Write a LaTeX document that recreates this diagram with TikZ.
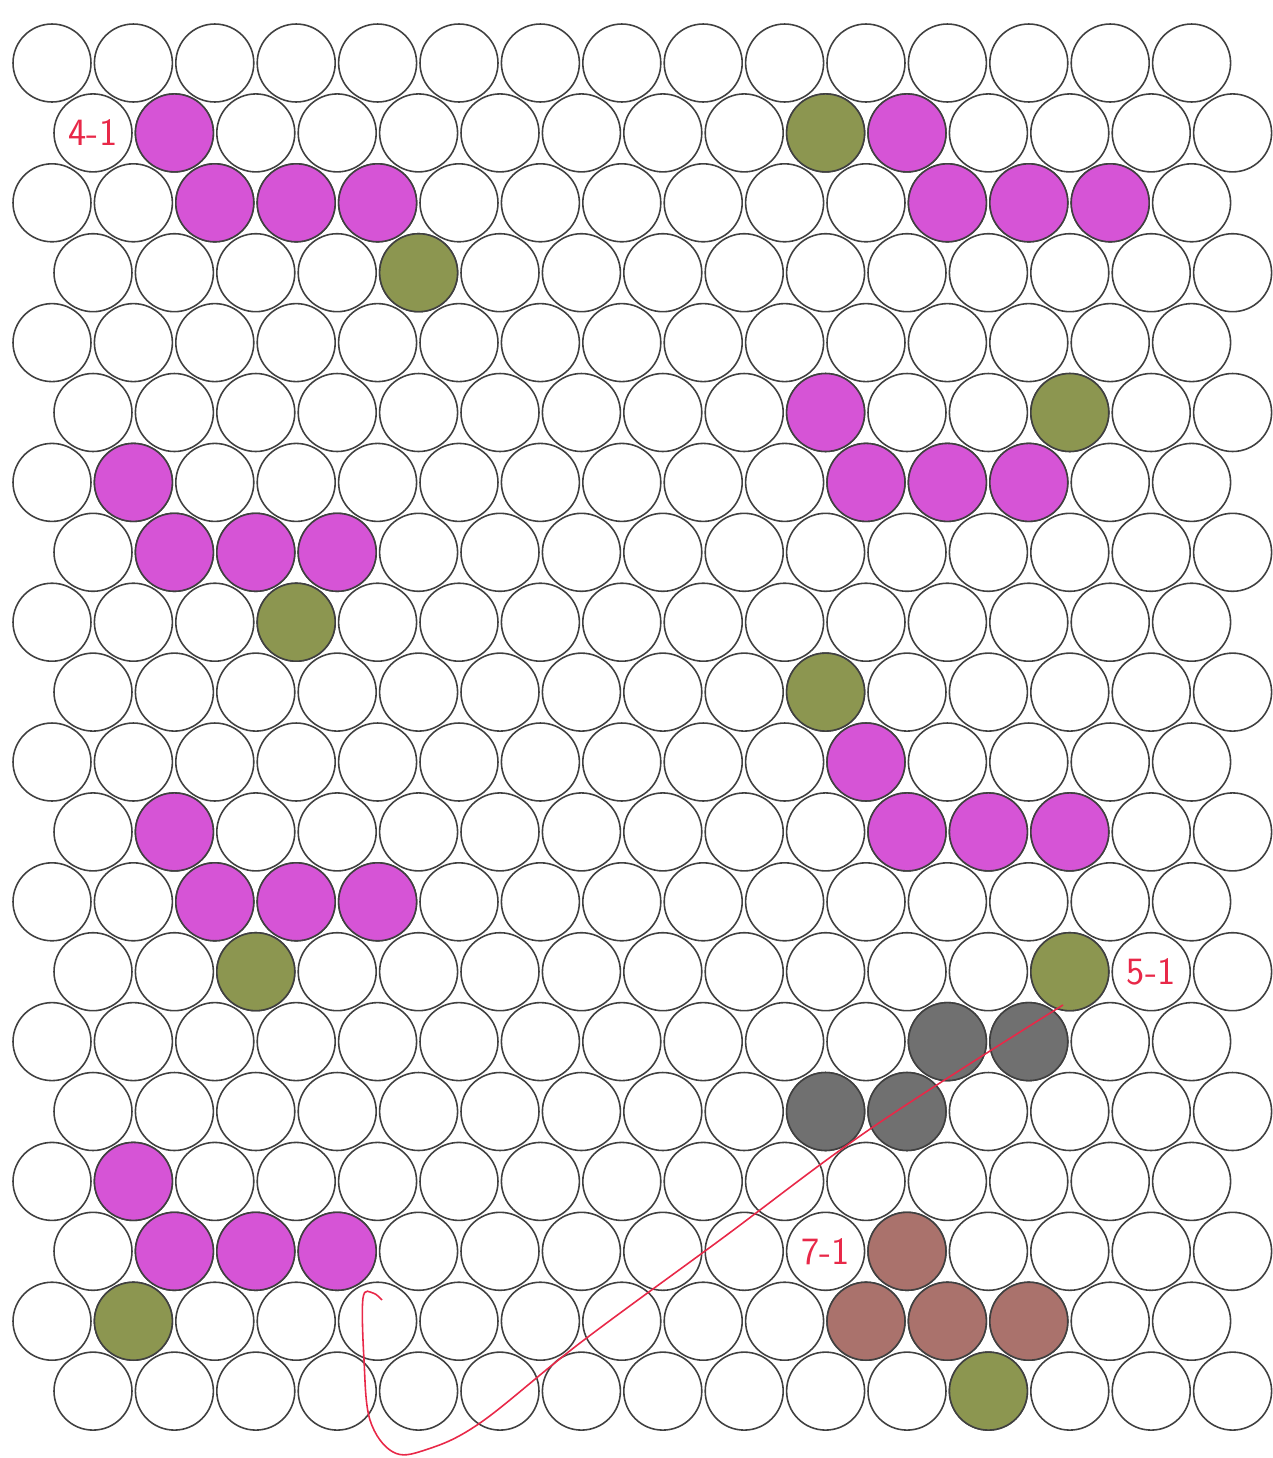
\documentclass[tikz,border=0pt]{standalone}
\usetikzlibrary{positioning}
\definecolor{pinkball}{RGB}{214,84,214}
\definecolor{greenball}{RGB}{140,150,80}
\definecolor{grayball}{RGB}{112,112,112}
\definecolor{brownball}{RGB}{170,114,108}
\definecolor{redink}{RGB}{232,40,72}

\begin{document}
\begin{tikzpicture}[x=0.02cm, y=-0.02cm,
    ball/.style={circle, draw=black!75, line width=0.9pt, minimum size=1.56cm, inner sep=0pt},
    tag/.style={text=redink, font=\sffamily\fontsize{22}{24}\selectfont}]
    \useasboundingbox (0,0) rectangle (1272,1458);

    % hexagonal grid of balls
    \foreach \r in {0,...,19}
        \foreach \c in {0,...,14}
            \node[ball] (b\r-\c) at ({52+41*mod(\r,2)+81.4*\c}, {63+69.9*\r}) {};

    % coloured balls
    \foreach \r/\c in {1/1, 2/2, 2/3, 2/4, 1/10, 2/11, 2/12, 2/13, 5/9, 6/10, 6/11, 6/12,
                       6/1, 7/1, 7/2, 7/3, 10/10, 11/10, 11/11, 11/12,
                       11/1, 12/2, 12/3, 12/4, 16/1, 17/1, 17/2, 17/3}
        \node[ball, fill=pinkball] at (b\r-\c) {};
    \foreach \r/\c in {1/9, 3/4, 5/12, 8/3, 9/9, 13/2, 13/12, 18/1, 19/11}
        \node[ball, fill=greenball] at (b\r-\c) {};
    \foreach \r/\c in {14/11, 14/12, 15/9, 15/10}
        \node[ball, fill=grayball] at (b\r-\c) {};
    \foreach \r/\c in {17/10, 18/10, 18/11, 18/12}
        \node[ball, fill=brownball] at (b\r-\c) {};

    % labels
    \node[tag] (t41) at (b1-0) {4-1};
    \node[tag] (t51) at (b13-13) {5-1};
    \node[tag] (t71) at (b17-9) {7-1};

    % red stroke
    \draw[redink, line width=0.9pt] plot[smooth, tension=0.6] coordinates
        {(382,1300) (373,1293) (363,1298) (364,1360) (370,1420) (393,1452) (425,1450)
         (480,1423) (580,1343) (720,1240) (873,1127) (1063,1005)};
\end{tikzpicture}
\end{document}
